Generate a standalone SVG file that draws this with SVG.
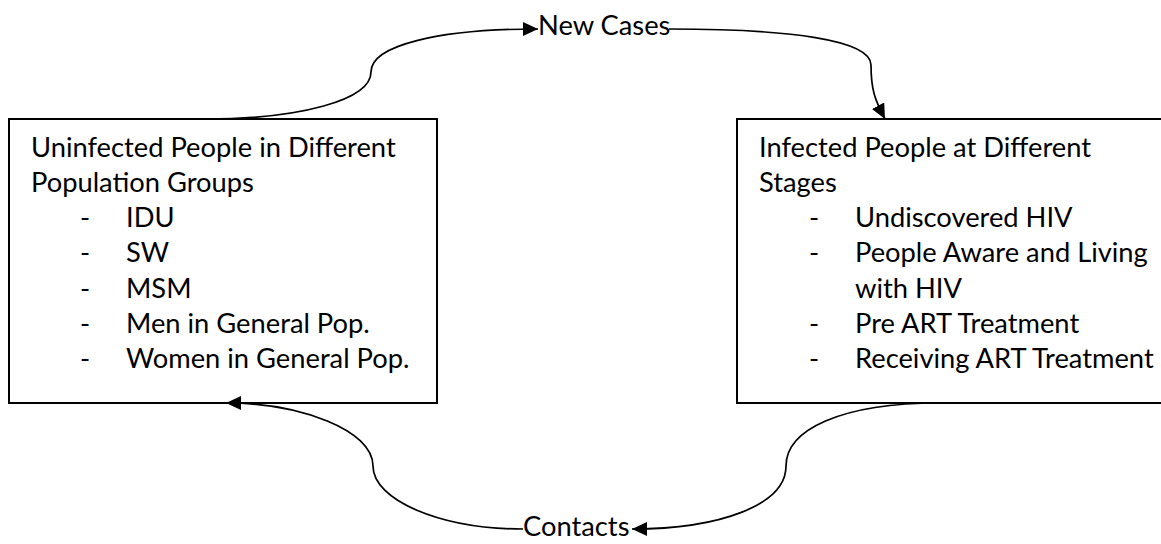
<svg xmlns="http://www.w3.org/2000/svg" width="1161" height="544" viewBox="0 0 1161 544">
<style>
.box{fill:#fff;stroke:#000;stroke-width:2}
.t{font-family:Lato,"Open Sans","Liberation Sans",sans-serif;font-size:27.3px;fill:#000}
.c{fill:none;stroke:#000;stroke-width:1.7}
</style>
<defs>
<marker id="arr" viewBox="0 0 15 14" refX="15" refY="7" markerWidth="15" markerHeight="14" orient="auto" markerUnits="userSpaceOnUse">
<path d="M0,0 L15,7 L0,14 z" fill="#000"/>
</marker>
</defs>
<rect width="1161" height="544" fill="#fff"/>
<g id="uninfected">
<rect class="box" x="9" y="119" width="428" height="284"/>
<text class="t" x="31" y="156.5">Uninfected People in Different</text>
<text class="t" x="31" y="191.8">Population Groups</text>
<text class="t" x="80" y="227.1">-</text><text class="t" x="126" y="227.1">IDU</text>
<text class="t" x="80" y="262.4">-</text><text class="t" x="126" y="262.4">SW</text>
<text class="t" x="80" y="297.7">-</text><text class="t" x="126" y="297.7">MSM</text>
<text class="t" x="80" y="333">-</text><text class="t" x="126" y="333">Men in General Pop.</text>
<text class="t" x="80" y="368.3">-</text><text class="t" x="126" y="368.3">Women in General Pop.</text>
</g>
<g id="infected">
<rect class="box" x="737" y="119" width="440" height="284"/>
<text class="t" x="759" y="156.5">Infected People at Different</text>
<text class="t" x="759" y="191.8">Stages</text>
<text class="t" x="809" y="227.1">-</text><text class="t" x="855" y="227.1">Undiscovered HIV</text>
<text class="t" x="809" y="262.4">-</text><text class="t" x="855" y="262.4">People Aware and Living</text>
<text class="t" x="855" y="297.7">with HIV</text>
<text class="t" x="809" y="333">-</text><text class="t" x="855" y="333">Pre ART Treatment</text>
<text class="t" x="809" y="368.3">-</text><text class="t" x="855" y="368.3">Receiving ART Treatment</text>
</g>
<g id="newcases">
<text class="t" x="538" y="35">New Cases</text>
</g>
<g id="contacts">
<text class="t" x="523" y="536">Contacts</text>
</g>
<g id="connectors">
<path class="c" d="M205 119 C300 119 371 100 371 72 C371 45 440 29 538 29" marker-end="url(#arr)"/>
<path class="c" d="M669 29 C790 29 871 40 871 65 C871 90 875 100 885 119" marker-end="url(#arr)"/>
<path class="c" d="M940 403 C840 403 786 430 786 466 C786 505 720 529 632 529" marker-end="url(#arr)"/>
<path class="c" d="M523 529 C440 529 373 500 373 466 C373 430 300 403 226 403" marker-end="url(#arr)"/>
</g>
</svg>
